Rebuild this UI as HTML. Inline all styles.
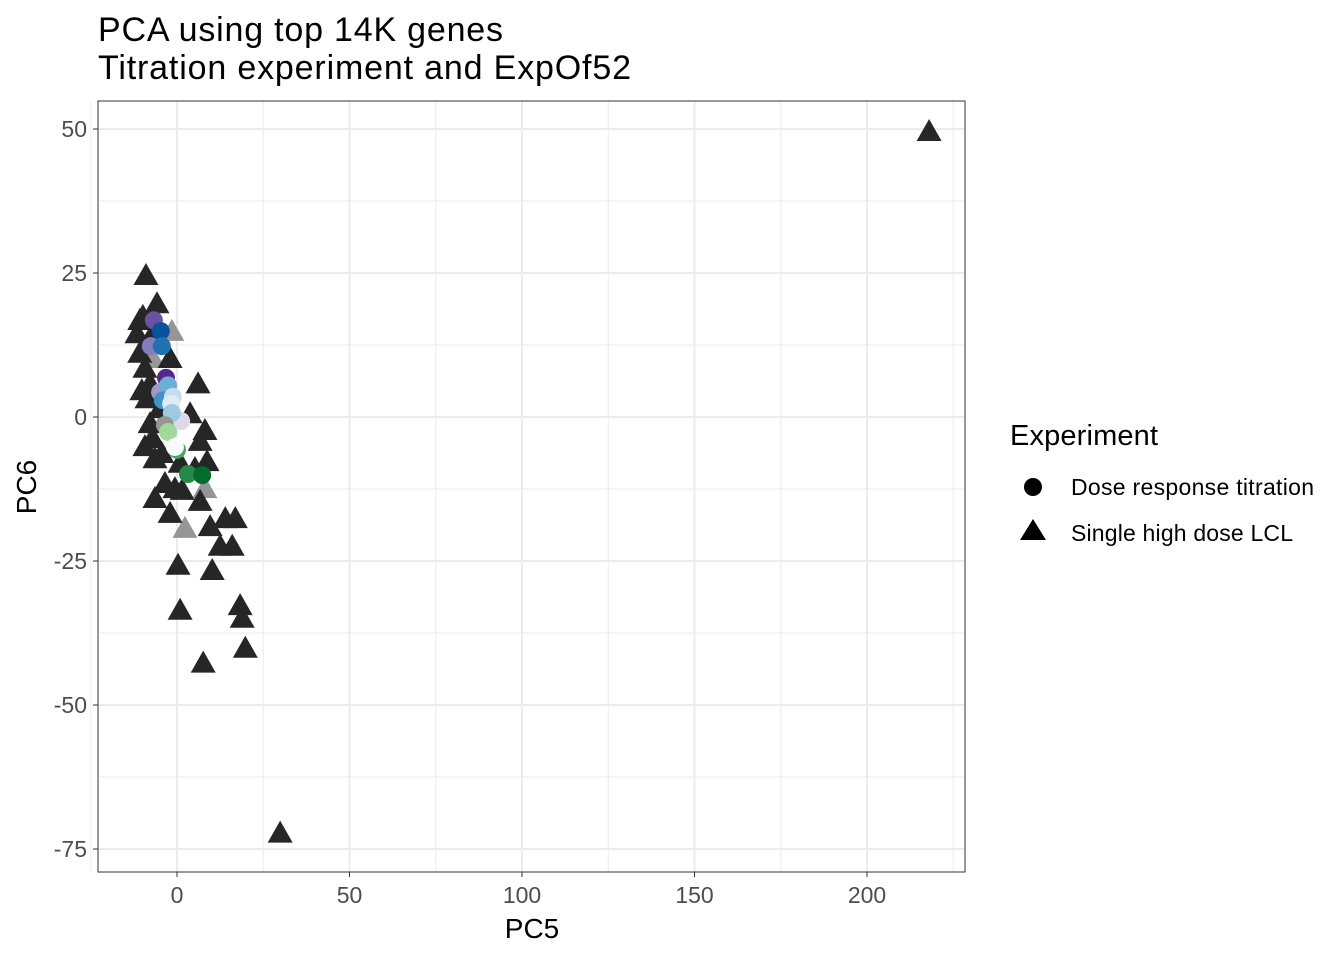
<!DOCTYPE html>
<html><head><meta charset="utf-8"><style>
body{margin:0;background:#fff;font-family:"Liberation Sans",sans-serif}
</style></head><body>
<svg id="chart" width="1344" height="960" xmlns="http://www.w3.org/2000/svg">
<text x="98" y="41" font-size="34" textLength="405" fill="#000">PCA using top 14K genes</text>
<text x="98" y="79" font-size="34" textLength="533" fill="#000">Titration experiment and ExpOf52</text>
<g id="grid"></g><g id="marks"></g><g id="axes"></g>
<text x="532" y="938" font-size="28" text-anchor="middle">PC5</text>
<text transform="translate(36,487) rotate(-90)" font-size="28" text-anchor="middle">PC6</text>
<g>
<text x="1010" y="445" font-size="29" textLength="148">Experiment</text>
<circle cx="1033" cy="487" r="9" fill="#000"/>
<text x="1071" y="495" font-size="23" textLength="243">Dose response titration</text>
<polygon points="1033,519 1046,540 1020,540" fill="#000"/>
<text x="1071" y="541" font-size="23" textLength="222">Single high dose LCL</text>
</g>
</svg>
<script>
const xTicks=[0,50,100,150,200];
const yTicks=[50,25,0,-25,-50,-75];
const triX=[-9.0,-5.8,-9.9,-10.8,-7.3,-11.6,-7.8,-2.0,-10.8,-9.3,6.1,-10.2,-7.8,-8.7,3.8,-4.9,-7.8,-7.0,8.1,6.7,-9.3,-6.4,-4.4,8.7,0.9,-0.6,-6.4,-2.0,6.7,1.5,9.6,14.0,16.9,12.5,16.0,0.3,10.2,0.9,18.3,18.9,7.6,19.8,29.9,218.0,-3.5,5.2];
const triY=[24.3,19.4,17.2,16.5,17.3,14.2,13.4,9.9,10.8,8.2,5.5,4.3,5.5,2.9,0.3,1.2,-1.4,-4.0,-2.6,-4.5,-5.4,-7.5,-6.6,-8.0,-8.3,-12.7,-14.4,-17.0,-14.9,-13.0,-19.3,-17.9,-17.9,-22.7,-22.7,-26.0,-26.9,-33.8,-33.0,-35.2,-43.0,-40.4,-72.5,49.3,-11.8,-9.2];
const grayTriX=[-1.5,-7.0,-3.5,8.1,2.3,-7.3];
const grayTriY=[14.6,9.9,-0.5,-12.7,-19.6,-4.0];
const circX=[-6.7,-4.7,-7.6,-4.4,-3.2,-4.9,-2.6,-4.1,-1.2,1.2,-1.7,-1.5,-3.5,-2.6,0,-0.6,3.2,7.3];
const circY=[16.8,14.9,12.3,12.3,6.8,4.3,5.5,2.9,3.5,-0.7,2.3,0.7,-1.4,-2.6,-5.7,-5.2,-9.9,-10.1];
const circC=["#6a51a3","#08519c","#807dba","#2171b5","#54278f","#9e9ac8","#6baed6","#4292c6","#c6dbef","#dadaeb","#deebf7","#9ecae1","#969696","#a1d99b","#41ab5d","#f7fbff","#238b45","#006d2c"];
const L=98,R=965,T=101,B=872;
function sx(v){return 177+v*(867-177)/200;}
function sy(v){return 417-v*(417-129)/50;}
const NS="http://www.w3.org/2000/svg";
function mk(tag,attrs,parent){const e=document.createElementNS(NS,tag);for(const k in attrs)e.setAttribute(k,attrs[k]);parent.appendChild(e);return e;}
const grid=document.getElementById('grid'),marks=document.getElementById('marks'),axes=document.getElementById('axes');
mk('rect',{x:L,y:T,width:R-L,height:B-T,fill:'#fff'},grid);
for(let i=0;i<xTicks.length;i++){
  const v=xTicks[i];
  const l=mk('line',{x1:sx(v),x2:sx(v),y1:T,y2:B,stroke:'#ebebeb','stroke-width':2},grid);
  
  
  if(i<xTicks.length-1){const m=(v+xTicks[i+1])/2;mk('line',{x1:sx(m),x2:sx(m),y1:T,y2:B,stroke:'#ebebeb','stroke-width':1},grid);}
  if(i==0){mk('line',{x1:sx(-25),x2:sx(-25),y1:T,y2:B,stroke:'#ebebeb','stroke-width':1},grid);}
  if(i==xTicks.length-1){mk('line',{x1:sx(225),x2:sx(225),y1:T,y2:B,stroke:'#ebebeb','stroke-width':1},grid);}
  mk('line',{x1:sx(v),x2:sx(v),y1:B,y2:B+5,stroke:'#333','stroke-width':1},axes);
  const t=mk('text',{x:sx(v),y:B+31,'font-size':23,'text-anchor':'middle',fill:'#4d4d4d'},axes);
  t.textContent=v;
  
  
}
for(let i=0;i<yTicks.length;i++){
  const v=yTicks[i];
  const l=mk('line',{x1:L,x2:R,y1:sy(v),y2:sy(v),stroke:'#ebebeb','stroke-width':2},grid);
  
  
  if(i<yTicks.length-1){const m=(v+yTicks[i+1])/2;mk('line',{x1:L,x2:R,y1:sy(m),y2:sy(m),stroke:'#ebebeb','stroke-width':1},grid);}
  mk('line',{x1:L-5,x2:L,y1:sy(v),y2:sy(v),stroke:'#333','stroke-width':1},axes);
  const t=mk('text',{x:L-11,y:sy(v)+8,'font-size':23,'text-anchor':'end',fill:'#4d4d4d'},axes);
  t.textContent=v;
  
  
}
mk('rect',{x:L,y:T,width:R-L,height:B-T,fill:'none',stroke:'#333','stroke-width':1},axes);
function tri(x,y,fill){
  const cx=sx(x),cy=sy(y);
  return mk('polygon',{points:`${cx},${cy-14} ${cx+12.5},${cy+8} ${cx-12.5},${cy+8}`,fill:fill},marks);
}
for(let i=0;i<grayTriX.length;i++){
  const p=tri(grayTriX[i],grayTriY[i],'#969696');
  
  
}
for(let i=0;i<triX.length;i++){
  const p=tri(triX[i],triY[i],'#262626');
  
  
}
for(let i=0;i<circX.length;i++){
  const c=mk('circle',{cx:sx(circX[i]),cy:sy(circY[i]),r:9,fill:circC[i]},marks);
  
  
}
</script>
</body></html>
